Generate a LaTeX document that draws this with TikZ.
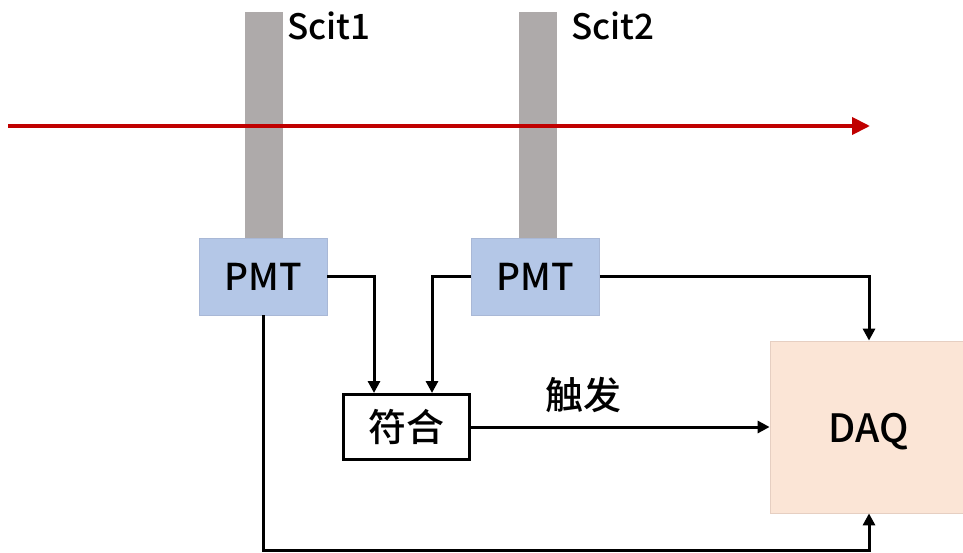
\documentclass[tikz,border=0pt]{standalone}
\usepackage{fontspec}
\setmainfont{Noto Sans CJK SC}[UprightFont={* Medium}, BoldFont={* Bold}]
\usetikzlibrary{arrows.meta}
\definecolor{bargray}{HTML}{AEAAAA}
\definecolor{pmtblue}{HTML}{B4C7E7}
\definecolor{pmtedge}{HTML}{A9B8D6}
\definecolor{daqfill}{HTML}{FBE5D6}
\definecolor{daqedge}{HTML}{E6CFC2}
\definecolor{beamred}{HTML}{C00000}
\tikzset{
  bar/.style={fill=bargray, draw=none, minimum width=38pt, minimum height=226pt, inner sep=0pt},
  pmt/.style={fill=pmtblue, draw=pmtedge, line width=0.8pt, minimum width=128pt, minimum height=77pt, inner sep=0pt, font=\fontsize{37}{40}\selectfont},
  coin/.style={fill=white, draw=black, line width=3pt, minimum width=126pt, minimum height=65pt, inner sep=0pt, font=\fontsize{38}{40}\selectfont},
  daq/.style={fill=daqfill, draw=daqedge, line width=0.8pt, minimum width=198pt, minimum height=172pt, inner sep=0pt, text height=31pt, text depth=0pt, font=\fontsize{39}{42}\selectfont},
  lbl/.style={inner sep=0pt, font=\fontsize{35}{38}\selectfont},
  cjk/.style={inner sep=0pt, font=\fontsize{38}{40}\selectfont},
  conn/.style={draw=black, line width=3pt, -{Triangle[length=12pt,width=12pt]}},
  beam/.style={draw=beamred, line width=4pt, -{Triangle[length=18pt,width=17pt]}}
}
\begin{document}
\begin{tikzpicture}[x=1pt,y=-1pt]
\useasboundingbox (0,0) rectangle (963,553);
\node[bar] (s1) at (263.5,125) {};
\node[bar] (s2) at (538,125) {};
\coordinate (rs) at (8,126);
\coordinate (re) at (870,126);
\draw[beam] (rs) -- (re);
\node[pmt] (p1) at (263,276.5) {PMT};
\node[pmt] (p2) at (535.5,276.5) {PMT};
\node[coin] (c) at (406.5,427) {符合};
\node[daq] (d) at (869,427) {DAQ};
\node[lbl, anchor=west] (l1) at (287,26) {Scit1};
\node[lbl, anchor=west] (l2) at (571,26) {Scit2};
\node[cjk] (tr) at (583,395) {触发};
\draw[conn] (p1.east) -| ([xshift=-32.5pt]c.north);
\draw[conn] (p2.west) -| ([xshift=25.5pt]c.north);
\draw[conn] (p2.east) -| (d.north);
\draw[conn] (c.east) -- (d.west);
\draw[conn] (p1.south) -- (p1.south |- 0,550) -| (d.south);
\end{tikzpicture}
\end{document}
